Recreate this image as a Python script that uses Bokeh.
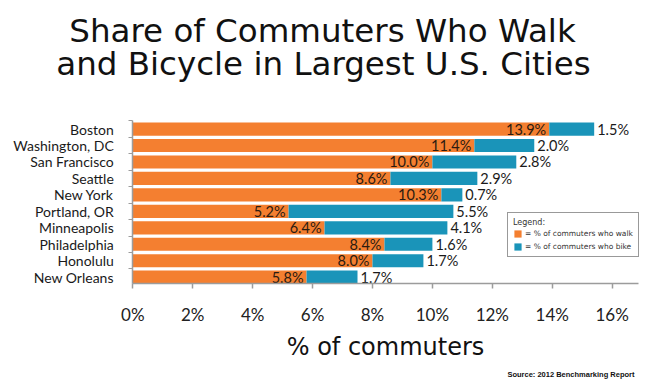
from bokeh.plotting import figure
from bokeh.models import (ColumnDataSource, FixedTicker, Label, Legend, LegendItem, Range1d)
from bokeh.embed import file_html
from bokeh.resources import INLINE
from bokeh.core.properties import value

# ---- data ----
cities = ["Boston", "Washington, DC", "San Francisco", "Seattle", "New York",
          "Portland, OR", "Minneapolis", "Philadelphia", "Honolulu", "New Orleans"]
walk = [13.9, 11.4, 10.0, 8.6, 10.3, 5.2, 6.4, 8.4, 8.0, 5.8]
bike = [1.5, 2.0, 2.8, 2.9, 0.7, 5.5, 4.1, 1.6, 1.7, 1.7]
x_ticks = [0, 2, 4, 6, 8, 10, 12, 14, 16]
x_tick_labels = ["0%", "2%", "4%", "6%", "8%", "10%", "12%", "14%", "16%"]
title_lines = ["Share of Commuters Who Walk", "and Bicycle in Largest U.S. Cities"]
x_title = "% of commuters"
source_note = "Source: 2012 Benchmarking Report"
legend_title = "Legend:"
legend_labels = ["= % of commuters who walk", "= % of commuters who bike"]

# ---- styling / layout (pixel geometry of the page) ----
ORANGE = "#F47F30"
BLUE = "#1A94B9"
AXIS_GREY = "#9c9c9c"
W, H = 650, 387
X0_PX = 132.3        # px of 0 %
PPX = 29.96          # px per 1 %
Y0_PX = 276.7        # px of the last category centre
PPY = 16.46          # px per category
X_AXIS_END = 16.88
BAR_H = 0.8
Y_AXIS_LO, Y_AXIS_HI = -0.4, 9.5


def px_to_x(px):
    return (px - X0_PX) / PPX


def py_to_y(py):
    return (Y0_PX - py) / PPY


n = len(cities)
ypos = [n - 1 - i for i in range(n)]
total = [w + b for w, b in zip(walk, bike)]
src = ColumnDataSource(dict(
    y=ypos, walk=walk, bike=bike, total=total,
    walk_lbl=["%.1f%%" % v for v in walk],
    bike_lbl=["%.1f%%" % v for v in bike],
))

p = figure(width=W, height=H, title=None,
           x_range=Range1d(px_to_x(0), px_to_x(W)),
           y_range=Range1d(py_to_y(H), py_to_y(0)),
           output_backend="svg", toolbar_location=None,
           min_border_left=0, min_border_right=0, min_border_top=0, min_border_bottom=0)
p.outline_line_color = None
p.xgrid.visible = False
p.ygrid.visible = False
p.background_fill_color = "white"
p.border_fill_color = "white"

r_walk = p.hbar(y="y", left=0, right="walk", height=BAR_H, fill_color=ORANGE,
                line_color=None, source=src)
r_bike = p.hbar(y="y", left="walk", right="total", height=BAR_H, fill_color=BLUE,
                line_color=None, source=src)

p.text(x="walk", y="y", text="walk_lbl", x_offset=-3, text_align="right",
       text_baseline="middle", text_font=value("Lato"), text_font_size="14.5px",
       text_color="#2b1b10", source=src)
p.text(x="total", y="y", text="bike_lbl", x_offset=3, text_align="left",
       text_baseline="middle", text_font=value("Lato"), text_font_size="14.5px",
       text_color="#1a1a1a", source=src)

# x axis
xa = p.xaxis[0]
xa.fixed_location = Y_AXIS_LO
xa.bounds = (0, X_AXIS_END)
xa.ticker = FixedTicker(ticks=x_ticks, minor_ticks=[])
xa.major_label_overrides = {t: l for t, l in zip(x_ticks, x_tick_labels)}
xa.axis_line_color = AXIS_GREY
xa.axis_line_width = 1.5
xa.major_tick_line_color = AXIS_GREY
xa.major_tick_line_width = 1.5
xa.major_tick_out = 5
xa.major_tick_in = 0
xa.minor_tick_line_color = None
xa.major_label_text_font = "Lato"
xa.major_label_text_font_size = "17px"
xa.major_label_text_color = "#222222"
xa.major_label_standoff = 15
xa.axis_label = x_title
xa.axis_label_text_font = "DejaVu Sans"
xa.axis_label_text_font_size = "24px"
xa.axis_label_text_font_style = "normal"
xa.axis_label_text_color = "#111111"
xa.axis_label_standoff = 5

# y axis
ya = p.yaxis[0]
ya.fixed_location = 0
ya.bounds = (Y_AXIS_LO, Y_AXIS_HI)
ya.ticker = FixedTicker(ticks=ypos, minor_ticks=[v + 0.5 for v in ypos])
ya.major_label_overrides = {t: c for t, c in zip(ypos, cities)}
ya.axis_line_color = AXIS_GREY
ya.axis_line_width = 1.5
ya.major_tick_out = 0
ya.major_tick_in = 0
ya.major_tick_line_color = None
ya.minor_tick_out = 4
ya.minor_tick_in = 0
ya.minor_tick_line_color = AXIS_GREY
ya.minor_tick_line_width = 1.2
ya.major_label_text_font = "Lato"
ya.major_label_text_font_size = "14px"
ya.major_label_text_color = "#1a1a1a"
ya.major_label_standoff = 15

# title lines (centred on the cap height of each line)
for line, cx, mid in zip(title_lines, [322, 323], [30, 63.5]):
    p.add_layout(Label(x=px_to_x(cx), y=py_to_y(mid), text=line, text_align="center",
                       text_baseline="middle", text_font="DejaVu Sans",
                       text_font_size="32.5px", text_color="#111111"))

# source note
p.add_layout(Label(x=px_to_x(634), y=py_to_y(374), text=source_note, text_align="right",
                   text_baseline="middle", text_font="Liberation Sans",
                   text_font_style="bold", text_font_size="7.5px", text_color="#111111"))

legend = Legend(items=[LegendItem(label=legend_labels[0], renderers=[r_walk]),
                       LegendItem(label=legend_labels[1], renderers=[r_bike])],
                title=legend_title, location=(507, H - 257))
legend.border_line_color = "#333333"
legend.border_line_width = 1.5
legend.background_fill_color = "white"
legend.background_fill_alpha = 1
legend.padding = 5
legend.margin = 0
legend.spacing = 4
legend.glyph_width = 9
legend.glyph_height = 9
legend.label_height = 9
legend.label_standoff = 3
legend.label_text_font = "DejaVu Sans"
legend.label_text_font_size = "7.5px"
legend.label_text_color = "#333333"
legend.title_text_font = "DejaVu Sans"
legend.title_text_font_size = "8px"
legend.title_text_font_style = "normal"
legend.title_text_color = "#333333"
legend.title_standoff = 2
p.add_layout(legend)

open("out.html", "w").write(file_html(p, INLINE))
